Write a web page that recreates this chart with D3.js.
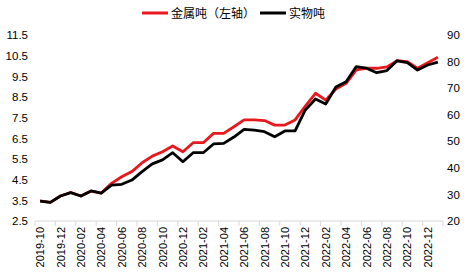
<!DOCTYPE html>
<html>
<head>
<meta charset="utf-8">
<script src="https://cdn.jsdelivr.net/npm/d3@7"></script>
<style>
  body { margin: 0; background: #fff; }
  svg { display: block; }
  .tick text { font-family: "Liberation Sans", Arial, sans-serif; fill: #000; }
</style>
</head>
<body>
<svg id="chart" width="474" height="276"></svg>
<script>
// months 2019-10 .. 2023-01
var months = [];
(function () {
  var y = 2019, m = 10;
  for (var i = 0; i < 40; i++) {
    months.push(y + "-" + (m < 10 ? "0" + m : m));
    m++;
    if (m > 12) { m = 1; y++; }
  }
})();

// 金属吨 (left axis)
var metalTon = [3.47, 3.40, 3.71, 3.88, 3.71, 3.95, 3.85, 4.32, 4.64, 4.89,
  5.32, 5.64, 5.85, 6.13, 5.85, 6.29, 6.29, 6.74, 6.74, 7.06,
  7.39, 7.39, 7.36, 7.14, 7.14, 7.39, 8.06, 8.68, 8.35, 8.89,
  9.16, 9.81, 9.89, 9.89, 9.96, 10.26, 10.21, 9.89, 10.16, 10.42];

// 实物吨 (right axis)
var physicalTon = [27.5, 27.0, 29.4, 30.7, 29.4, 31.3, 30.5, 33.5, 33.8, 35.4,
  38.6, 41.5, 43.0, 45.7, 42.3, 45.7, 45.7, 49.0, 49.2, 51.6,
  54.5, 54.2, 53.6, 51.7, 53.9, 53.9, 61.8, 65.9, 64.0, 70.4,
  72.4, 78.1, 77.5, 75.8, 76.6, 80.3, 79.6, 76.8, 78.7, 79.8];

var leftTicks = [2.5, 3.5, 4.5, 5.5, 6.5, 7.5, 8.5, 9.5, 10.5, 11.5];
var rightTicks = [20, 30, 40, 50, 60, 70, 80, 90];

var COLOR = { RED: "#e8191e", BLACK: "#000000", AXIS: "#d9d9d9" };

var svg = d3.select("#chart");
var margin = { left: 35, right: 31, top: 35, bottom: 55 };
var W = 474, H = 276;

var x = d3.scaleBand().domain(months).range([margin.left, W - margin.right]);
var yL = d3.scaleLinear().domain([2.5, 11.5]).range([H - margin.bottom, margin.top]);
var yR = d3.scaleLinear().domain([20, 90]).range([H - margin.bottom, margin.top]);

// left axis labels
var leftAxis = svg.append("g")
  .attr("transform", "translate(" + (margin.left - 5) + ",0)")
  .call(d3.axisLeft(yL).tickValues(leftTicks).tickFormat(d3.format(".1f")).tickSize(0).tickPadding(2));
leftAxis.select(".domain").remove();
leftAxis.selectAll("text").style("font-size", "11.5px");

// right axis labels
var rightAxis = svg.append("g")
  .attr("transform", "translate(" + (W - margin.right + 4) + ",0)")
  .call(d3.axisRight(yR).tickValues(rightTicks).tickSize(0).tickPadding(0));
rightAxis.select(".domain").remove();
rightAxis.selectAll("text").style("font-size", "11.5px");

// bottom axis: ticks at band boundaries every 2 months, labels at band centres
var baseY = H - margin.bottom;
var bottom = svg.append("g").attr("class", "x-axis");
bottom.append("line")
  .attr("x1", x.range()[0]).attr("x2", x.range()[1])
  .attr("y1", baseY).attr("y2", baseY)
  .attr("stroke", COLOR.AXIS);
var tickIdx = d3.range(0, months.length + 1, 2);
bottom.selectAll(".xtick")
  .data(tickIdx)
  .enter()
  .append("line")
  .attr("x1", function (i) { return x.range()[0] + i * x.step(); })
  .attr("x2", function (i) { return x.range()[0] + i * x.step(); })
  .attr("y1", baseY).attr("y2", baseY + 5)
  .attr("stroke", COLOR.AXIS);
var labelMonths = months.filter(function (d, i) { return i % 2 === 0; });
bottom.selectAll(".xlabel")
  .data(labelMonths)
  .enter()
  .append("text")
  .attr("class", "xlabel")
  .attr("transform", function (d) {
    return "translate(" + (x(d) + x.bandwidth() / 2 + 4) + "," + (baseY + 6) + ") rotate(-90)";
  })
  .attr("text-anchor", "end")
  .style("font-family", "'Liberation Sans', Arial, sans-serif")
  .style("font-size", "11px")
  .text(function (d) { return d; });

// lines
var lineL = d3.line()
  .x(function (d, i) { return x(months[i]) + x.bandwidth() / 2; })
  .y(function (d) { return yL(d); });
var lineR = d3.line()
  .x(function (d, i) { return x(months[i]) + x.bandwidth() / 2; })
  .y(function (d) { return yR(d); });

svg.append("path")
  .datum(metalTon)
  .attr("d", lineL)
  .attr("fill", "none")
  .attr("stroke", COLOR.RED)
  .attr("stroke-width", 2.8)
  .attr("stroke-linejoin", "round");

svg.append("path")
  .datum(physicalTon)
  .attr("d", lineR)
  .attr("fill", "none")
  .attr("stroke", COLOR.BLACK)
  .attr("stroke-width", 2.8)
  .attr("stroke-linejoin", "round");

// legend
var legendItems = [
  { label: "金属吨（左轴）", color: COLOR.RED, x: 142 },
  { label: "实物吨", color: COLOR.BLACK, x: 260 }
];
var legend = svg.append("g").attr("class", "legend");
legendItems.forEach(function (d) {
  legend.append("line")
    .attr("x1", d.x).attr("x2", d.x + 26)
    .attr("y1", 13).attr("y2", 13)
    .attr("stroke", d.color)
    .attr("stroke-width", 3);
  legend.append("text")
    .attr("x", d.x + 29)
    .attr("y", 17.5)
    .style("font-family", "'Noto Sans CJK SC', sans-serif")
    .style("font-size", "12px")
    .text(d.label);
});
</script>
</body>
</html>
